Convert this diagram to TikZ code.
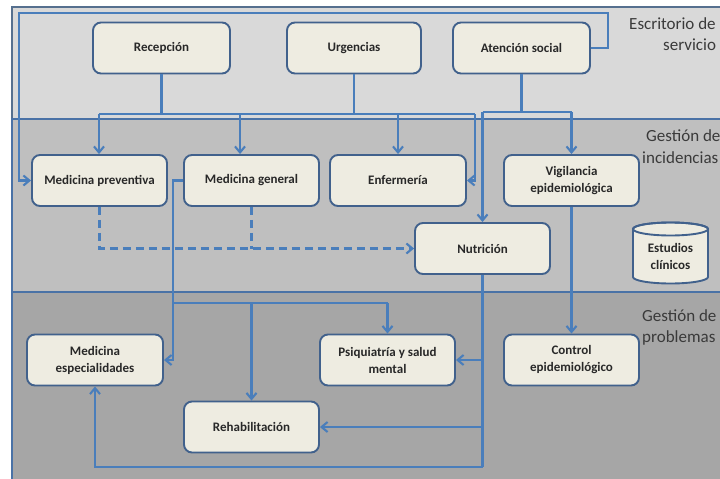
\documentclass[tikz,border=0pt]{standalone}
\usepackage{fontspec}
\setmainfont{Carlito}
\usetikzlibrary{arrows.meta,calc}

\definecolor{bandA}{HTML}{D9D9D9}
\definecolor{bandB}{HTML}{BFBFBF}
\definecolor{bandC}{HTML}{A6A6A6}
\definecolor{bandline}{HTML}{4A72A6}
\definecolor{bandframe}{HTML}{56708F}
\definecolor{boxfill}{HTML}{EEECE1}
\definecolor{boxline}{HTML}{41618C}
\definecolor{conn}{HTML}{4A7EBB}
\definecolor{txt}{HTML}{282828}
\definecolor{labeltxt}{HTML}{3A3A3A}

\begin{document}
\begin{tikzpicture}[x=1pt,y=-1pt,
  proc/.style={draw=boxline, line width=1.9pt, fill=boxfill, rounded corners=8pt,
    minimum width=#1, minimum height=51pt, inner sep=2pt, align=center,
    font=\bfseries\fontsize{13}{17}\selectfont, text=txt},
  proc/.default=135pt,
  link/.style={draw=conn, line width=2.1pt},
  arr/.style={link, -{Straight Barb[length=6pt,width=10pt]}},
  dlink/.style={link, dash pattern=on 8pt off 5pt},
  band/.style={draw=bandline, line width=1.7pt},
  bandlabel/.style={anchor=base west, font=\fontsize{17}{20}\selectfont, text=labeltxt, inner sep=0pt}
]
\useasboundingbox (0,0) rectangle (720,479);
\begin{scope}
\clip (0,0) rectangle (720,479);
\fill[white] (0,0) rectangle (720,479);
\draw[band, draw=bandframe, fill=bandA] (12,7) rectangle (740,119);
\draw[band, fill=bandB] (12,119) rectangle (740,292);
\draw[band, fill=bandC] (12,292) rectangle (740,500);
\end{scope}

\node[bandlabel] (l1a) at (629,29) {Escritorio de};
\node[bandlabel] (l1b) at (663,50) {servicio};
\node[bandlabel] (l2a) at (646,141) {Gestión de};
\node[bandlabel] (l2b) at (642,163) {incidencias};
\node[bandlabel] (l3a) at (642,321) {Gestión de};
\node[bandlabel] (l3b) at (642,342) {problemas};

% boxes
\node[proc=137pt] (rec) at (161.5,48) {Recepción};
\node[proc=134pt] (urg) at (354,48) {Urgencias};
\node[proc=137pt] (ate) at (521.5,48) {Atención social};

\node[proc] (mp) at (99.5,180.5) {Medicina preventiva};
\node[proc] (mg) at (251.5,180.5) {Medicina general};
\node[proc=136pt] (enf) at (398,180.5) {Enfermería};
\node[proc] (vig) at (571.5,180.5) {Vigilancia\\epidemiológica};
\node[proc] (nut) at (482.5,248.5) {Nutrición};

\node[proc=136pt] (mesp) at (95,360) {Medicina\\especialidades};
\node[proc] (psi) at (387.5,360) {Psiquiatría y salud\\mental};
\node[proc] (con) at (571.5,360) {Control\\epidemiológico};
\node[proc] (reh) at (251.5,427) {Rehabilitación};

% cylinder
\filldraw[draw=boxline, line width=1.9pt, fill=boxfill]
  (633,229) -- (633,277) arc[start angle=180, end angle=0, x radius=37.5, y radius=6.5]
  -- (708,229) arc[start angle=0, end angle=-180, x radius=37.5, y radius=6.5] -- cycle;
\draw[draw=boxline, line width=1.9pt] (670.5,229) ellipse[x radius=37.5, y radius=6.5];
\node[font=\bfseries\fontsize{13}{17}\selectfont, text=txt, align=center] (est) at (670.5,256) {Estudios\\clínicos};

% Atención social loop to Medicina preventiva
\coordinate (lt) at (19,13);
\draw[arr] (ate.east) -- ++(17,0) |- (lt) |- (mp.west);

% Recepción / Urgencias bus
\coordinate (busL) at (99,114);
\coordinate (busR) at (475,114);
\draw[link] (rec.south) -- (rec.south |- busL);
\draw[link] (urg.south) -- (urg.south |- busL);
\draw[link] (busL) -- (busR);
\draw[arr] (busL) -- (busL |- mp.north);
\draw[arr] ([xshift=-11.5pt]mg.north |- busL) -- ([xshift=-11.5pt]mg.north);
\draw[arr] (enf.north |- busL) -- (enf.north);
\draw[arr] (busR) |- (enf.east);

% Atención social bus
\coordinate (busA) at (522,112);
\draw[link] (ate.south) -- (ate.south |- busA);
\draw[link] (nut.north |- busA) -- (vig.north |- busA);
\draw[arr] (nut.north |- busA) -- (nut.north);
\draw[arr] (vig.north |- busA) -- (vig.north);

% dashed links to Nutrición
\draw[dlink, -{Straight Barb[length=6pt,width=10pt]}] (mp.south) |- (nut.west);
\draw[dlink] (mg.south) -- (mg.south |- nut.west);

% Medicina general to problem area
\coordinate (vl) at (173,303);
\draw[arr] (mg.west) -- (vl |- mg.west) |- (mesp.east);
\draw[link] (vl) -- (psi.north |- vl);
\draw[arr] (psi.north |- vl) -- (psi.north);
\draw[arr] (reh.north |- vl) -- (reh.north);

% Vigilancia to Control
\draw[arr] (vig.south) -- (con.north);

% Nutrición down
\coordinate (nb) at (482.5,467);
\draw[link] (nut.south) -- (nb);
\draw[arr] (nut.south |- psi.east) -- (psi.east);
\draw[arr] (nut.south |- reh.east) -- (reh.east);
\draw[arr] (nb) -| (mesp.south);
\end{tikzpicture}
\end{document}
